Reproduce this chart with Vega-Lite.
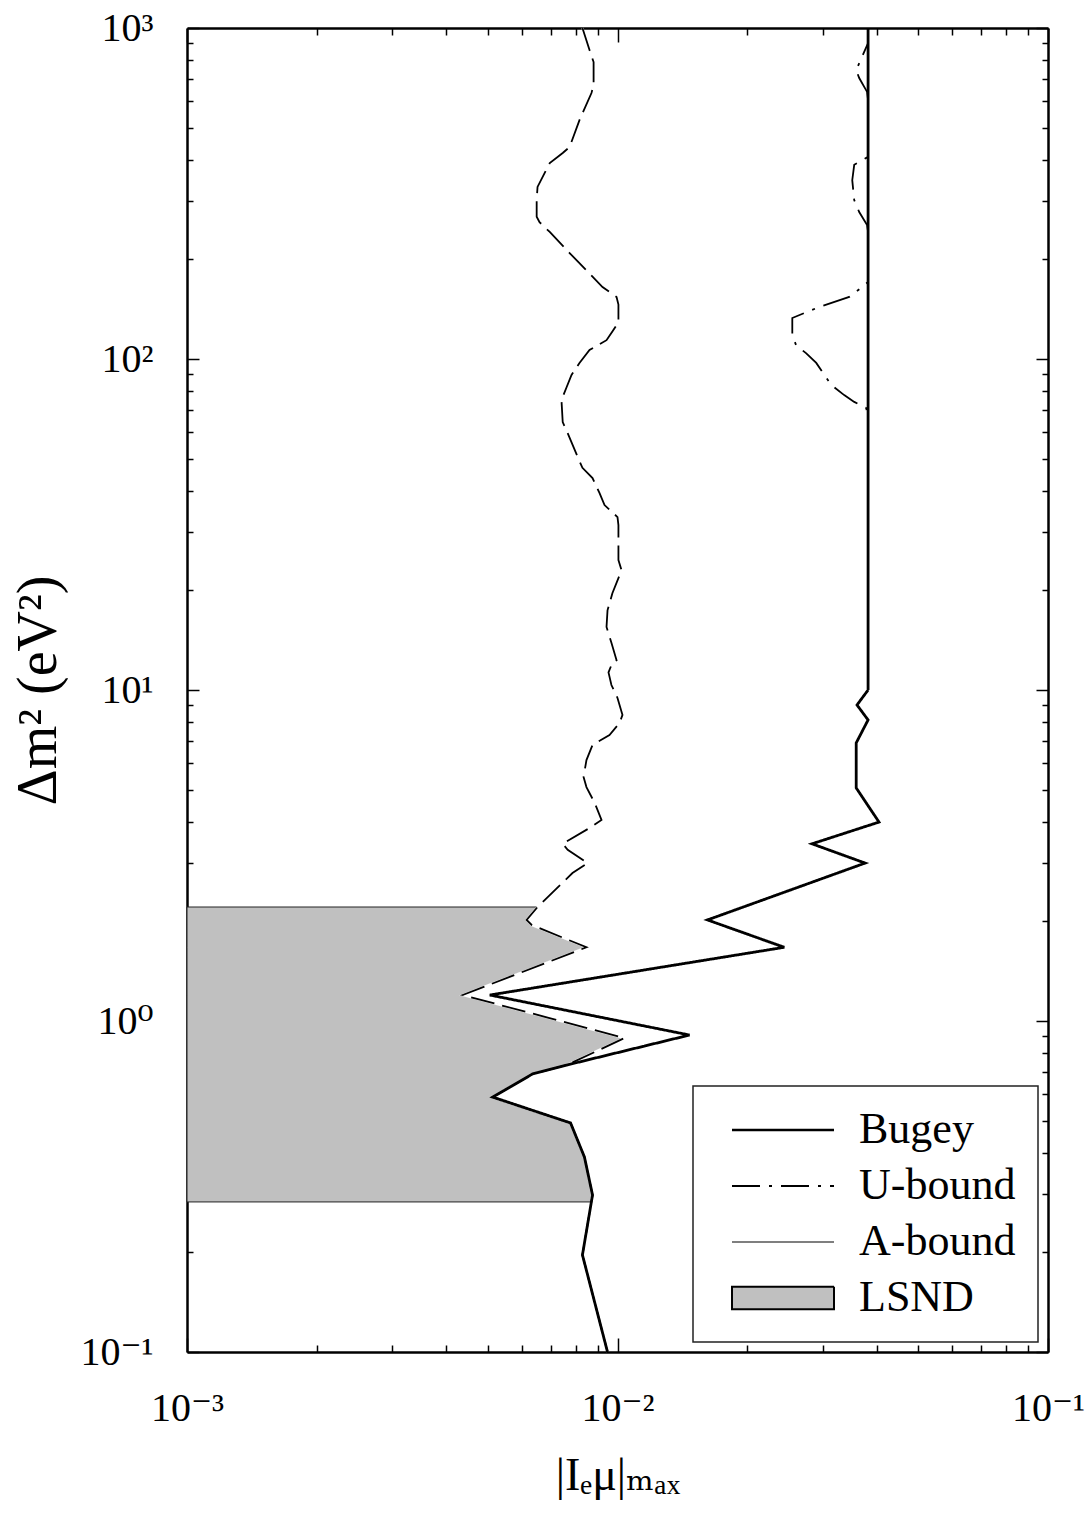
{
  "$schema": "https://vega.github.io/schema/vega-lite/v6.json",
  "width": 861,
  "height": 1324,
  "autosize": {"type": "none"},
  "padding": {"left": 187, "top": 28, "right": 38, "bottom": 164},
  "background": "white",
  "config": {
    "view": {"stroke": null},
    "font": "Liberation Serif, DejaVu Serif",
    "axis": {
      "domainColor": "black", "domainWidth": 2.5, "tickColor": "black", "tickWidth": 1.5,
      "labelFont": "Liberation Serif, DejaVu Serif", "labelFontSize": 40, "labelColor": "black",
      "titleFont": "Liberation Serif, DejaVu Serif", "titleColor": "black", "titleFontWeight": "normal",
      "grid": false, "zindex": 1, "labelOverlap": false, "labelFlush": false, "labelBound": false
    }
  },
  "datasets": {
    "lsnd": [
      {"x": 0.00652, "y": 2.21}, {"x": 0.00615, "y": 2.02}, {"x": 0.00632, "y": 1.95},
      {"x": 0.00847, "y": 1.67}, {"x": 0.00437, "y": 1.198}, {"x": 0.01038, "y": 0.888},
      {"x": 0.00762, "y": 0.736}, {"x": 0.00635, "y": 0.692}, {"x": 0.00513, "y": 0.589},
      {"x": 0.00778, "y": 0.492}, {"x": 0.00838, "y": 0.388}, {"x": 0.00875, "y": 0.298},
      {"x": 0.00869, "y": 0.284}
    ],
    "curves": [
      {"s": "A-bound", "i": 1, "x": 0.00829, "y": 1000}, {"s": "A-bound", "i": 2, "x": 0.00861, "y": 858},
      {"s": "A-bound", "i": 3, "x": 0.0088, "y": 789}, {"s": "A-bound", "i": 4, "x": 0.0088, "y": 673},
      {"s": "A-bound", "i": 5, "x": 0.0087, "y": 636}, {"s": "A-bound", "i": 6, "x": 0.00816, "y": 527},
      {"s": "A-bound", "i": 7, "x": 0.00774, "y": 437}, {"s": "A-bound", "i": 8, "x": 0.00746, "y": 419},
      {"s": "A-bound", "i": 9, "x": 0.00696, "y": 391}, {"s": "A-bound", "i": 10, "x": 0.00652, "y": 331},
      {"s": "A-bound", "i": 11, "x": 0.00649, "y": 302}, {"s": "A-bound", "i": 12, "x": 0.00649, "y": 269},
      {"s": "A-bound", "i": 13, "x": 0.00659, "y": 259}, {"s": "A-bound", "i": 14, "x": 0.00696, "y": 242},
      {"s": "A-bound", "i": 15, "x": 0.00774, "y": 209}, {"s": "A-bound", "i": 16, "x": 0.00923, "y": 165},
      {"s": "A-bound", "i": 17, "x": 0.00995, "y": 154}, {"s": "A-bound", "i": 18, "x": 0.01005, "y": 146},
      {"s": "A-bound", "i": 19, "x": 0.01005, "y": 129}, {"s": "A-bound", "i": 20, "x": 0.00973, "y": 121},
      {"s": "A-bound", "i": 21, "x": 0.00943, "y": 114}, {"s": "A-bound", "i": 22, "x": 0.00861, "y": 106.5},
      {"s": "A-bound", "i": 23, "x": 0.00816, "y": 97.3}, {"s": "A-bound", "i": 24, "x": 0.00782, "y": 89.5},
      {"s": "A-bound", "i": 25, "x": 0.00762, "y": 82.3}, {"s": "A-bound", "i": 26, "x": 0.00741, "y": 75.2},
      {"s": "A-bound", "i": 27, "x": 0.00746, "y": 64.5}, {"s": "A-bound", "i": 28, "x": 0.00766, "y": 59.7},
      {"s": "A-bound", "i": 29, "x": 0.00808, "y": 50.6}, {"s": "A-bound", "i": 30, "x": 0.00829, "y": 46.9},
      {"s": "A-bound", "i": 31, "x": 0.00875, "y": 43.7}, {"s": "A-bound", "i": 32, "x": 0.00908, "y": 39.4},
      {"s": "A-bound", "i": 33, "x": 0.00933, "y": 36.2}, {"s": "A-bound", "i": 34, "x": 0.01, "y": 33.3},
      {"s": "A-bound", "i": 35, "x": 0.01005, "y": 31.5}, {"s": "A-bound", "i": 36, "x": 0.01005, "y": 24.7},
      {"s": "A-bound", "i": 37, "x": 0.01022, "y": 23.0}, {"s": "A-bound", "i": 38, "x": 0.00973, "y": 19.6},
      {"s": "A-bound", "i": 39, "x": 0.00948, "y": 17.4}, {"s": "A-bound", "i": 40, "x": 0.00943, "y": 15.5},
      {"s": "A-bound", "i": 41, "x": 0.00968, "y": 13.9}, {"s": "A-bound", "i": 42, "x": 0.00995, "y": 12.3},
      {"s": "A-bound", "i": 43, "x": 0.00973, "y": 12.1}, {"s": "A-bound", "i": 44, "x": 0.00953, "y": 11.3},
      {"s": "A-bound", "i": 45, "x": 0.00968, "y": 10.35}, {"s": "A-bound", "i": 46, "x": 0.01, "y": 9.46},
      {"s": "A-bound", "i": 47, "x": 0.01027, "y": 8.41}, {"s": "A-bound", "i": 48, "x": 0.01011, "y": 7.95},
      {"s": "A-bound", "i": 49, "x": 0.00958, "y": 7.31}, {"s": "A-bound", "i": 50, "x": 0.00875, "y": 6.82},
      {"s": "A-bound", "i": 51, "x": 0.00847, "y": 6.14}, {"s": "A-bound", "i": 52, "x": 0.00834, "y": 5.46},
      {"s": "A-bound", "i": 53, "x": 0.00847, "y": 5.09}, {"s": "A-bound", "i": 54, "x": 0.00885, "y": 4.56},
      {"s": "A-bound", "i": 55, "x": 0.00918, "y": 4.05}, {"s": "A-bound", "i": 56, "x": 0.0087, "y": 3.86},
      {"s": "A-bound", "i": 57, "x": 0.00746, "y": 3.43}, {"s": "A-bound", "i": 58, "x": 0.00766, "y": 3.29},
      {"s": "A-bound", "i": 59, "x": 0.00852, "y": 3.0}, {"s": "A-bound", "i": 60, "x": 0.00786, "y": 2.8},
      {"s": "A-bound", "i": 61, "x": 0.00652, "y": 2.21}, {"s": "A-bound", "i": 62, "x": 0.00615, "y": 2.02},
      {"s": "A-bound", "i": 63, "x": 0.00632, "y": 1.95}, {"s": "A-bound", "i": 64, "x": 0.00847, "y": 1.67},
      {"s": "A-bound", "i": 65, "x": 0.00437, "y": 1.198}, {"s": "A-bound", "i": 66, "x": 0.01038, "y": 0.888},
      {"s": "A-bound", "i": 67, "x": 0.00762, "y": 0.736}, {"s": "A-bound", "i": 68, "x": 0.00635, "y": 0.692},
      {"s": "A-bound", "i": 69, "x": 0.00513, "y": 0.589}, {"s": "A-bound", "i": 70, "x": 0.00778, "y": 0.492},
      {"s": "A-bound", "i": 71, "x": 0.00838, "y": 0.388}, {"s": "A-bound", "i": 72, "x": 0.00875, "y": 0.298},
      {"s": "A-bound", "i": 73, "x": 0.00829, "y": 0.1964}, {"s": "A-bound", "i": 74, "x": 0.00948, "y": 0.1},
      {"s": "Bugey", "i": 1, "x": 0.0382, "y": 1000}, {"s": "Bugey", "i": 2, "x": 0.0382, "y": 10},
      {"s": "Bugey", "i": 3, "x": 0.036, "y": 9.01}, {"s": "Bugey", "i": 4, "x": 0.0382, "y": 8.12},
      {"s": "Bugey", "i": 5, "x": 0.03585, "y": 6.92}, {"s": "Bugey", "i": 6, "x": 0.03585, "y": 5.06},
      {"s": "Bugey", "i": 7, "x": 0.0405, "y": 3.99}, {"s": "Bugey", "i": 8, "x": 0.0283, "y": 3.43},
      {"s": "Bugey", "i": 9, "x": 0.0376, "y": 3.0}, {"s": "Bugey", "i": 10, "x": 0.01618, "y": 2.02},
      {"s": "Bugey", "i": 11, "x": 0.0244, "y": 1.67}, {"s": "Bugey", "i": 12, "x": 0.00505, "y": 1.198},
      {"s": "Bugey", "i": 13, "x": 0.0147, "y": 0.907}, {"s": "Bugey", "i": 14, "x": 0.00762, "y": 0.736},
      {"s": "Bugey", "i": 15, "x": 0.00635, "y": 0.692}, {"s": "Bugey", "i": 16, "x": 0.00513, "y": 0.589},
      {"s": "Bugey", "i": 17, "x": 0.00778, "y": 0.492}, {"s": "Bugey", "i": 18, "x": 0.00838, "y": 0.388},
      {"s": "Bugey", "i": 19, "x": 0.00875, "y": 0.298}, {"s": "Bugey", "i": 20, "x": 0.00829, "y": 0.1964},
      {"s": "Bugey", "i": 21, "x": 0.00948, "y": 0.1},
      {"s": "U-bound", "i": 1, "x": 0.0382, "y": 1000}, {"s": "U-bound", "i": 2, "x": 0.0382, "y": 901},
      {"s": "U-bound", "i": 3, "x": 0.03585, "y": 746}, {"s": "U-bound", "i": 4, "x": 0.03643, "y": 706},
      {"s": "U-bound", "i": 5, "x": 0.038, "y": 641}, {"s": "U-bound", "i": 6, "x": 0.0382, "y": 606},
      {"s": "U-bound", "i": 7, "x": 0.0382, "y": 408}, {"s": "U-bound", "i": 8, "x": 0.03547, "y": 386},
      {"s": "U-bound", "i": 9, "x": 0.0351, "y": 347}, {"s": "U-bound", "i": 10, "x": 0.03547, "y": 302},
      {"s": "U-bound", "i": 11, "x": 0.03643, "y": 278}, {"s": "U-bound", "i": 12, "x": 0.038, "y": 254},
      {"s": "U-bound", "i": 13, "x": 0.0382, "y": 242}, {"s": "U-bound", "i": 14, "x": 0.0382, "y": 171},
      {"s": "U-bound", "i": 15, "x": 0.037, "y": 165}, {"s": "U-bound", "i": 16, "x": 0.03454, "y": 154},
      {"s": "U-bound", "i": 17, "x": 0.02942, "y": 143.6}, {"s": "U-bound", "i": 18, "x": 0.02547, "y": 133},
      {"s": "U-bound", "i": 19, "x": 0.02547, "y": 118}, {"s": "U-bound", "i": 20, "x": 0.026, "y": 110},
      {"s": "U-bound", "i": 21, "x": 0.02745, "y": 104}, {"s": "U-bound", "i": 22, "x": 0.02895, "y": 97.3},
      {"s": "U-bound", "i": 23, "x": 0.03137, "y": 83.5}, {"s": "U-bound", "i": 24, "x": 0.03362, "y": 77.8},
      {"s": "U-bound", "i": 25, "x": 0.03547, "y": 74.2}, {"s": "U-bound", "i": 26, "x": 0.03782, "y": 71.1},
      {"s": "U-bound", "i": 27, "x": 0.0382, "y": 66.8}, {"s": "U-bound", "i": 28, "x": 0.0382, "y": 10}
    ]
  },
  "layer": [
    {
      "data": {"name": "lsnd"},
      "mark": {"type": "area", "orient": "horizontal", "fill": "#c0c0c0", "stroke": "#222222", "strokeWidth": 1},
      "encoding": {
        "x": {
          "field": "x", "type": "quantitative",
          "scale": {"type": "log", "domain": [0.001, 0.1], "nice": false},
          "axis": {
            "orient": "bottom",
            "title": "|Iₑμ|ₘₐₓ",
            "titleFontSize": 46,
            "titlePadding": 18,
            "values": [0.001, 0.002, 0.003, 0.004, 0.005, 0.006, 0.007, 0.008, 0.009, 0.01, 0.02, 0.03, 0.04, 0.05, 0.06, 0.07, 0.08, 0.09, 0.1],
            "labelExpr": "abs(log(datum.value)/LN10 - round(log(datum.value)/LN10)) < 0.001 ? '10' + (round(log(datum.value)/LN10) < 0 ? '⁻' : '') + ['⁰','¹','²','³'][abs(round(log(datum.value)/LN10))] : ''",
            "tickSize": {"condition": {"test": "abs(log(datum.value)/LN10 - round(log(datum.value)/LN10)) < 0.001", "value": -14}, "value": -7},
            "labelPadding": 50
          }
        },
        "x2": {"datum": 0.001},
        "y": {
          "field": "y", "type": "quantitative",
          "scale": {"type": "log", "domain": [0.1, 1000], "nice": false},
          "axis": {
            "orient": "left",
            "title": "Δm² (eV²)",
            "titleFontSize": 56,
            "titlePadding": 12,
            "values": [0.1, 0.2, 0.3, 0.4, 0.5, 0.6, 0.7, 0.8, 0.9, 1, 2, 3, 4, 5, 6, 7, 8, 9, 10, 20, 30, 40, 50, 60, 70, 80, 90, 100, 200, 300, 400, 500, 600, 700, 800, 900, 1000],
            "labelExpr": "abs(log(datum.value)/LN10 - round(log(datum.value)/LN10)) < 0.001 ? '10' + (round(log(datum.value)/LN10) < 0 ? '⁻' : '') + ['⁰','¹','²','³'][abs(round(log(datum.value)/LN10))] : ''",
            "tickSize": {"condition": {"test": "abs(log(datum.value)/LN10 - round(log(datum.value)/LN10)) < 0.001", "value": -12}, "value": -6},
            "labelPadding": 46
          }
        }
      }
    },
    {
      "data": {"name": "curves"},
      "transform": [{"filter": "datum.s === 'A-bound'"}],
      "mark": {"type": "line", "stroke": "white", "strokeWidth": 2.2},
      "encoding": {
        "x": {
          "field": "x", "type": "quantitative",
          "scale": {"type": "log", "domain": [0.001, 0.1], "nice": false},
          "axis": {
            "orient": "top", "labels": false, "title": null,
            "values": [0.001, 0.002, 0.003, 0.004, 0.005, 0.006, 0.007, 0.008, 0.009, 0.01, 0.02, 0.03, 0.04, 0.05, 0.06, 0.07, 0.08, 0.09, 0.1],
            "tickSize": {"condition": {"test": "abs(log(datum.value)/LN10 - round(log(datum.value)/LN10)) < 0.001", "value": -14}, "value": -7}
          }
        },
        "y": {
          "field": "y", "type": "quantitative",
          "scale": {"type": "log", "domain": [0.1, 1000], "nice": false},
          "axis": {
            "orient": "right", "labels": false, "title": null,
            "values": [0.1, 0.2, 0.3, 0.4, 0.5, 0.6, 0.7, 0.8, 0.9, 1, 2, 3, 4, 5, 6, 7, 8, 9, 10, 20, 30, 40, 50, 60, 70, 80, 90, 100, 200, 300, 400, 500, 600, 700, 800, 900, 1000],
            "tickSize": {"condition": {"test": "abs(log(datum.value)/LN10 - round(log(datum.value)/LN10)) < 0.001", "value": -12}, "value": -6}
          }
        },
        "order": {"field": "i"}
      }
    },
    {
      "data": {"name": "curves"},
      "transform": [{"filter": "datum.s === 'A-bound'"}],
      "mark": {"type": "line", "stroke": "black", "strokeWidth": 1.8, "strokeDash": [24, 8]},
      "encoding": {
        "x": {"field": "x", "type": "quantitative", "scale": {"type": "log", "domain": [0.001, 0.1], "nice": false}, "axis": null},
        "y": {"field": "y", "type": "quantitative", "scale": {"type": "log", "domain": [0.1, 1000], "nice": false}, "axis": null},
        "order": {"field": "i"}
      }
    },
    {
      "data": {"name": "curves"},
      "transform": [{"filter": "datum.s !== 'A-bound'"}],
      "mark": {"type": "line", "stroke": "black"},
      "encoding": {
        "x": {"field": "x", "type": "quantitative", "scale": {"type": "log", "domain": [0.001, 0.1], "nice": false}, "axis": null},
        "y": {"field": "y", "type": "quantitative", "scale": {"type": "log", "domain": [0.1, 1000], "nice": false}, "axis": null},
        "order": {"field": "i"},
        "strokeWidth": {"condition": {"test": "datum.s === 'Bugey'", "value": 2.8}, "value": 1.8},
        "strokeDash": {
          "field": "s", "type": "nominal",
          "scale": {"domain": ["Bugey", "U-bound", "A-bound", "LSND"], "range": [[1, 0], [28, 9, 3, 9], [1, 0], [1, 0]]},
          "legend": {
            "title": null,
            "orient": "bottom-right",
            "offset": 10,
            "symbolType": "stroke",
            "symbolSize": 10404,
            "symbolStrokeColor": "black",
            "labelFont": "Liberation Serif, DejaVu Serif",
            "labelFontSize": 44,
            "labelColor": "black",
            "labelOffset": 54,
            "labelLimit": 400,
            "symbolOffset": 46,
            "padding": 22,
            "rowPadding": 12,
            "strokeColor": "#222222",
            "fillColor": "white",
            "encode": {
              "legend": {"update": {"strokeWidth": {"value": 1.5}}},
              "symbols": {
                "update": {
                  "shape": {"signal": "datum.value === 'LSND' ? 'M-1,-0.22H1V0.22H-1Z' : 'stroke'"},
                  "fill": {"signal": "datum.value === 'LSND' ? '#c0c0c0' : 'transparent'"},
                  "stroke": {"signal": "datum.value === 'A-bound' ? '#555555' : 'black'"},
                  "strokeWidth": {"signal": "datum.value === 'Bugey' ? 2.6 : datum.value === 'A-bound' ? 1.3 : 2"}
                }
              }
            }
          }
        }
      }
    }
  ],
  "resolve": {"axis": {"x": "independent", "y": "independent"}}
}
